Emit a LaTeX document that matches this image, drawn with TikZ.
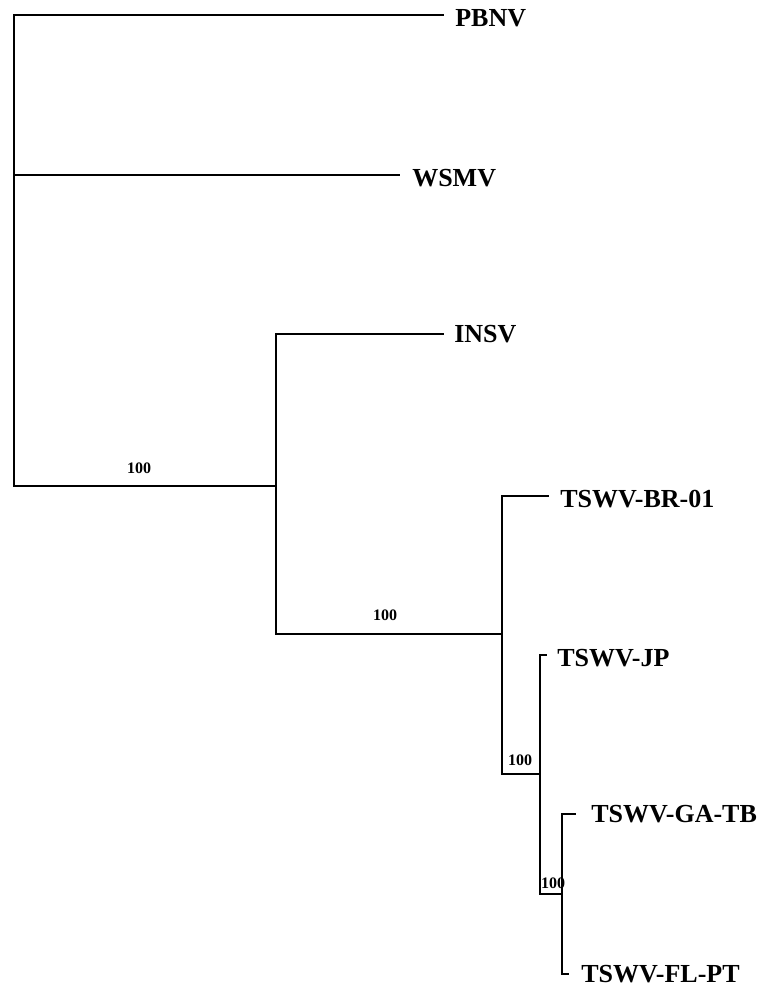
\documentclass[tikz,border=0pt]{standalone}
\usepackage{fontspec}
\setmainfont{Liberation Serif}
\begin{document}
\begin{tikzpicture}[x=0.75pt,y=-0.75pt,
  branch/.style={line width=1pt, line cap=rect},
  taxon/.style={anchor=base west, inner sep=0pt, font=\fontsize{19.5}{23}\selectfont\bfseries},
  boot/.style={anchor=base, inner sep=0pt, font=\fontsize{12}{14}\selectfont\bfseries}]
\useasboundingbox (0,0) rectangle (757,988);
% internal nodes
\coordinate (root) at (14,250);
\coordinate (nA) at (276,486);
\coordinate (nB) at (502,634);
\coordinate (nC) at (540,774);
\coordinate (nD) at (562,894);
% tip ends
\coordinate (ePBNV) at (443,15);
\coordinate (eWSMV) at (399,175);
\coordinate (eINSV) at (443,334);
\coordinate (eBR) at (548,496);
\coordinate (eJP) at (546,655);
\coordinate (eGA) at (575,814);
\coordinate (eFL) at (568,974);
% labels
\node[taxon] (lPBNV) at (455,27) {PBNV};
\node[taxon] (lWSMV) at (412,186) {WSMV};
\node[taxon] (lINSV) at (454,342) {INSV};
\node[taxon] (lBR) at (560,507) {TSWV-BR-01};
\node[taxon] (lJP) at (557,666) {TSWV-JP};
\node[taxon] (lGA) at (591,822) {TSWV-GA-TB};
\node[taxon] (lFL) at (581,982) {TSWV-FL-PT};
% branches
\draw[branch] (root) |- (ePBNV);
\draw[branch] (root) |- (eWSMV);
\draw[branch] (root) |- (nA);
\draw[branch] (nA) |- (eINSV);
\draw[branch] (nA) |- (nB);
\draw[branch] (nB) |- (eBR);
\draw[branch] (nB) |- (nC);
\draw[branch] (nC) |- (eJP);
\draw[branch] (nC) |- (nD);
\draw[branch] (nD) |- (eGA);
\draw[branch] (nD) |- (eFL);
% bootstrap values
\node[boot] (b1) at (139,473) {100};
\node[boot] (b2) at (385,620) {100};
\node[boot] (b3) at (520,765) {100};
\node[boot] (b4) at (553,888) {100};
\end{tikzpicture}
\end{document}
